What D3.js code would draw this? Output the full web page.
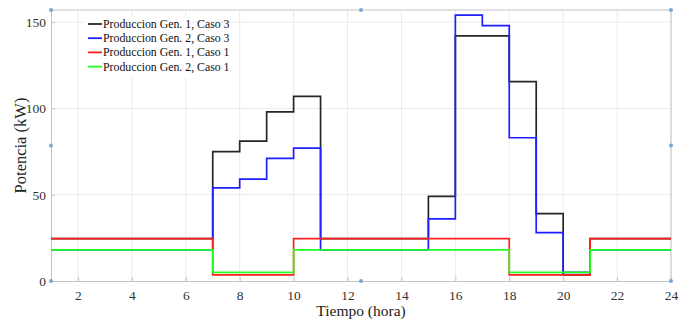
<!DOCTYPE html>
<html>
<head>
<meta charset="utf-8">
<script src="https://cdn.jsdelivr.net/npm/d3@7"></script>
</head>
<body style="margin:0">
<svg id="chart" width="678" height="323"></svg>
<script>
// hours and power values (kW)
const hours = d3.range(1, 25);
const gen1Caso3 = [24.5,24.5,24.5,24.5,24.5,24.5, 75,81,98,107, 24.5,24.5,24.5,24.5, 49,142,142,115.5,39, 3.5, 24.5,24.5,24.5,24.5];
const gen2Caso3 = [18,18,18,18,18,18, 54,59,71,77, 18,18,18,18, 36,154,148,83,28, 5, 18,18,18,18];
const gen1Caso1 = [24.5,24.5,24.5,24.5,24.5,24.5, 3.5,3.5,3.5, 24.5,24.5,24.5,24.5,24.5,24.5,24.5,24.5, 3.5,3.5,3.5, 24.5,24.5,24.5,24.5];
const gen2Caso1 = [18,18,18,18,18,18, 5,5,5, 18,18,18,18,18,18,18,18, 5,5,5, 18,18,18,18];
const xTicks = [2,4,6,8,10,12,14,16,18,20,22,24];
const yTicks = [0,50,100,150];

const series = [
  {name: "Produccion Gen. 1, Caso 3", values: gen1Caso3, color: "#262626"},
  {name: "Produccion Gen. 2, Caso 3", values: gen2Caso3, color: "#1f1fff"},
  {name: "Produccion Gen. 1, Caso 1", values: gen1Caso1, color: "#ff2020"},
  {name: "Produccion Gen. 2, Caso 1", values: gen2Caso1, color: "#20ff20"}
];

const serif = "Liberation Serif";
const margin = {top: 10, right: 7, bottom: 42, left: 51};
const svg = d3.select("#chart");
const width = +svg.attr("width");
const height = +svg.attr("height");
const innerW = width - margin.left - margin.right;
const innerH = height - margin.top - margin.bottom;

const x = d3.scaleLinear().domain([1, 24]).range([0, innerW]);
const y = d3.scaleLinear().domain([0, 157]).range([innerH, 0]);

const g = svg.append("g").attr("transform", `translate(${margin.left},${margin.top})`);

// grid
g.append("g").selectAll("line").data(xTicks).join("line")
  .attr("x1", d => x(d)).attr("x2", d => x(d))
  .attr("y1", 0).attr("y2", innerH)
  .attr("stroke", "#ebebeb").attr("stroke-width", 1);
g.append("g").selectAll("line").data(yTicks.slice(1)).join("line")
  .attr("x1", 0).attr("x2", innerW)
  .attr("y1", d => y(d)).attr("y2", d => y(d))
  .attr("stroke", "#ebebeb").attr("stroke-width", 1);

// axes
const xAxis = g.append("g").attr("transform", `translate(0,${innerH})`)
  .call(d3.axisBottom(x).tickValues(xTicks).tickSize(-4).tickPadding(9));
const yAxis = g.append("g")
  .call(d3.axisLeft(y).tickValues(yTicks).tickSize(-4).tickPadding(5));
[xAxis, yAxis].forEach(a => {
  a.attr("font-family", serif).attr("font-size", 13.5);
  a.select(".domain").attr("stroke", "#c4c4c4");
  a.selectAll(".tick line").attr("stroke", "#c4c4c4");
  a.selectAll("text").attr("fill", "#333").attr("font-family", serif);
});
// top / right border
g.append("line").attr("x1", 0).attr("x2", innerW).attr("y1", 0).attr("y2", 0).attr("stroke", "#c4c4c4");
g.append("line").attr("x1", innerW).attr("x2", innerW).attr("y1", 0).attr("y2", innerH).attr("stroke", "#c4c4c4");

// step lines
const line = d3.line().curve(d3.curveStepAfter)
  .x((d, i) => x(hours[i])).y(d => y(d));
g.append("g").selectAll("path").data(series).join("path")
  .attr("d", d => line(d.values))
  .attr("fill", "none")
  .attr("stroke", d => d.color)
  .attr("stroke-width", 1.7);

// legend
const leg = g.append("g").attr("transform", "translate(33,6)");
leg.append("rect").attr("x", 0).attr("y", 0).attr("width", 108).attr("height", 62).attr("fill", "#fff");
series.forEach((s, i) => {
  const yy = 8 + i * 14.2;
  leg.append("line").attr("x1", 4).attr("x2", 18).attr("y1", yy).attr("y2", yy)
    .attr("stroke", s.color).attr("stroke-width", 1.8);
  leg.append("text").attr("x", 19).attr("y", yy + 4).text(s.name)
    .attr("font-family", serif).attr("font-size", 11.8).attr("fill", "#111");
});

// axis labels
svg.append("text").attr("x", margin.left + innerW / 2).attr("y", 316)
  .attr("text-anchor", "middle")
  .attr("font-family", serif).attr("font-size", 15.5).attr("fill", "#222")
  .text("Tiempo (hora)");
svg.append("text").attr("transform", `translate(26,${margin.top + innerH / 2}) rotate(-90)`)
  .attr("text-anchor", "middle")
  .attr("font-family", serif).attr("font-size", 16.5).attr("fill", "#222")
  .text("Potencia (kW)");

// selection handles
const handles = [[0,0],[0.5,0],[1,0],[0,0.5],[1,0.5],[0,1],[0.5,1],[1,1]];
g.append("g").selectAll("circle").data(handles).join("circle")
  .attr("cx", d => d[0] * innerW).attr("cy", d => d[1] * innerH)
  .attr("r", 2).attr("fill", "#7aa6d6");
</script>
</body>
</html>
